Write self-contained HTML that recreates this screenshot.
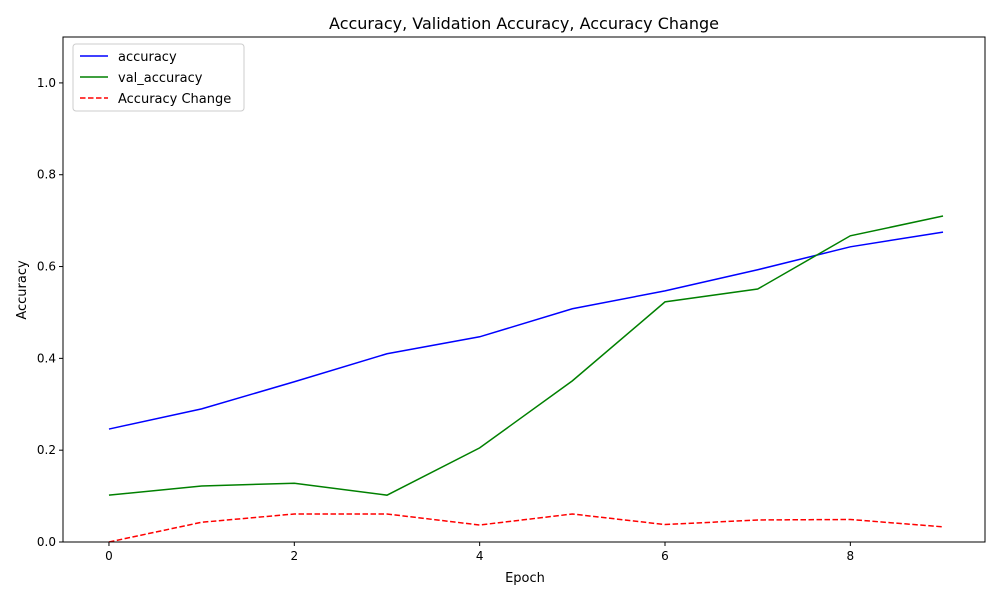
<!DOCTYPE html>
<html><head><meta charset="utf-8"><style>
body{margin:0;background:#fff;font-family:"Liberation Sans","DejaVu Sans",sans-serif}
</style></head><body>
<svg id="chart" width="1000" height="600" xmlns="http://www.w3.org/2000/svg" font-family="DejaVu Sans, Liberation Sans, sans-serif">
<rect width="1000" height="600" fill="#fff"/>
<text x="524" y="29" font-size="16" text-anchor="middle">Accuracy, Validation Accuracy, Accuracy Change</text>
<text x="525" y="582" font-size="13" text-anchor="middle">Epoch</text>
<text transform="translate(26,290) rotate(-90)" font-size="13" text-anchor="middle">Accuracy</text>
<g id="ticks"></g>
<g id="series"></g>
<rect x="63" y="37" width="922" height="505" fill="none" stroke="#000" stroke-width="1"/>
<g>
<rect x="73" y="44" width="171" height="67" fill="#fff" stroke="#ccc" rx="3"/>
<g><line x1="80" y1="56" x2="108" y2="56" stroke="#0000ff" stroke-width="1.5"/><text x="118" y="61" font-size="13">accuracy</text></g>
<g><line x1="80" y1="77" x2="108" y2="77" stroke="#008000" stroke-width="1.5"/><text x="118" y="82" font-size="13">val_accuracy</text></g>
<g><line x1="80" y1="98" x2="108" y2="98" stroke="#ff0000" stroke-width="1.5" stroke-dasharray="5.5,2.5"/><text x="118" y="103" font-size="13">Accuracy Change</text></g>
</g>
</svg>
<script>
const epochs=[0,1,2,3,4,5,6,7,8,9];
const accuracy=[0.246,0.290,0.349,0.410,0.447,0.508,0.547,0.593,0.643,0.675];
const valAccuracy=[0.102,0.122,0.128,0.102,0.205,0.351,0.523,0.551,0.667,0.710];
const accuracyChange=[0,0.043,0.061,0.061,0.037,0.061,0.038,0.048,0.049,0.033];
const xTicks=[0,2,4,6,8];
const yTicks=[0,0.2,0.4,0.6,0.8,1.0];
const NS="http://www.w3.org/2000/svg";
const L=63,R=985,T=37,B=542,xmin=-0.496,xmax=9.453,ymin=0,ymax=1.1;
const xs=v=>L+(v-xmin)/(xmax-xmin)*(R-L);
const ys=v=>B-(v-ymin)/(ymax-ymin)*(B-T);
const tg=document.getElementById('ticks'),sg=document.getElementById('series');
function mk(t,a,p){const e=document.createElementNS(NS,t);for(const k in a)e.setAttribute(k,a[k]);p.appendChild(e);return e;}
xTicks.forEach(v=>{
 const l=mk('line',{x1:xs(v),x2:xs(v),y1:B,y2:B+4,stroke:'#000'},tg);
 
 
 const t=mk('text',{x:xs(v),y:B+18,'font-size':12,'text-anchor':'middle'},tg);t.textContent=v;
 
 
});
yTicks.forEach(v=>{
 const l=mk('line',{x1:L-4,x2:L,y1:ys(v),y2:ys(v),stroke:'#000'},tg);
 
 
 const t=mk('text',{x:L-7,y:ys(v)+4,'font-size':12,'text-anchor':'end'},tg);t.textContent=v.toFixed(1);
 
 
});
function line(d,c,dash,name){
 const p=mk('polyline',{points:d.map((v,i)=>xs(epochs[i])+','+ys(v)).join(' '),fill:'none',stroke:c,'stroke-width':1.5},sg);
 if(dash)p.setAttribute('stroke-dasharray','5.5,2.5');
 
 
}
line(accuracy,'#0000ff',false,'accuracy-line');
line(valAccuracy,'#008000',false,'val-accuracy-line');
line(accuracyChange,'#ff0000',true,'accuracy-change-line');
</script>
</body></html>
